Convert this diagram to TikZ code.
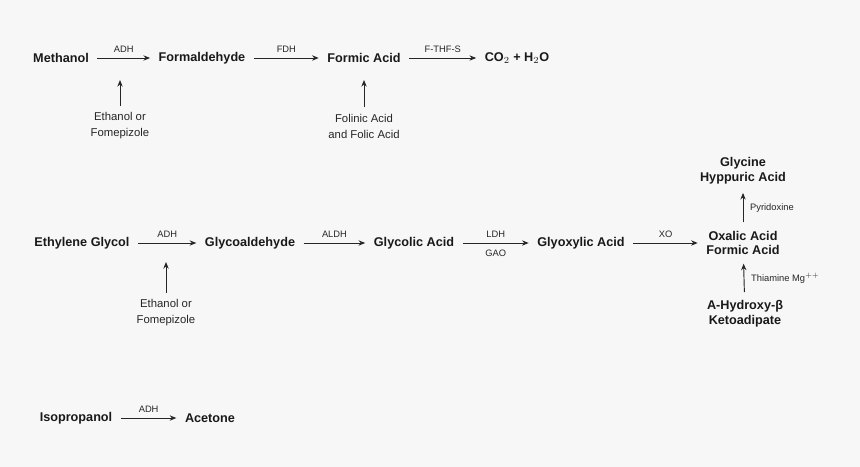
\documentclass[tikz,border=0pt]{standalone}
\usepackage{fontspec}
\setmainfont{Liberation Sans}
\usetikzlibrary{arrows.meta}
\begin{document}
\begin{tikzpicture}[x=0.75pt,y=-0.75pt,
 chem/.style={font=\bfseries\fontsize{9.5}{11}\selectfont,inner sep=0pt,outer sep=6.5pt,align=center,text=black!90},
 note/.style={font=\fontsize{8.5}{12}\selectfont,inner sep=0pt,outer sep=5pt,align=center,text=black!85},
 enz/.style={font=\fontsize{7}{8}\selectfont,inner sep=1pt,text=black!85},
 arr/.style={-{Stealth[length=5pt,width=4pt]},line width=0.7pt,black!85}]
\fill[black!3] (0,0) rectangle (860,467);
\useasboundingbox (0,0) rectangle (860,467);
% row 1
\node[chem] (meth) at (61,58) {Methanol};
\node[chem] (form) at (202,58) {Formaldehyde};
\node[chem] (fa) at (364,58) {Formic Acid};
\node[chem] (co2) at (517,58) {CO$_2$ + H$_2$O};
\draw[arr] (meth) -- node[enz,above=3pt] {ADH} (form);
\draw[arr] (form) -- node[enz,above=3pt] {FDH} (fa);
\draw[arr] (fa) -- node[enz,above=3pt] {F-THF-S} (co2);
\coordinate (c1) at (120,80);
\coordinate (c2) at (364,80);
\node[note] (eth1) at (120,126) {Ethanol or\\Fomepizole};
\node[note] (fol) at (364,126) {Folinic Acid\\and Folic Acid};
\draw[arr] (eth1) -- (c1);
\draw[arr] (fol) -- (c2);
% row 2
\node[chem] (eg) at (82,243) {Ethylene Glycol};
\node[chem] (gald) at (250,243) {Glycoaldehyde};
\node[chem] (gac) at (414,243) {Glycolic Acid};
\node[chem] (gox) at (581,243) {Glyoxylic Acid};
\node[chem] (ox) at (743,243) {Oxalic Acid\\Formic Acid};
\node[chem] (gly) at (743,171) {Glycine\\Hyppuric Acid};
\node[chem] (ahk) at (745,314) {A-Hydroxy-β\\Ketoadipate};
\draw[arr] (eg) -- node[enz,above=3pt] {ADH} (gald);
\draw[arr] (gald) -- node[enz,above=3pt] {ALDH} (gac);
\draw[arr] (gac) -- node[enz,above=3pt] {LDH} node[enz,below=4pt] {GAO} (gox);
\draw[arr] (gox) -- node[enz,above=3pt] {XO} (ox);
\draw[arr] (ox) -- node[enz,right=4pt] {Pyridoxine} (gly);
\draw[arr] (ahk) -- node[enz,right=4pt] {Thiamine Mg$^{++}$} (ox);
\coordinate (c3) at (166,262);
\node[note] (eth2) at (166,313) {Ethanol or\\Fomepizole};
\draw[arr] (eth2) -- (c3);
% row 3
\node[chem] (iso) at (76,418) {Isopropanol};
\node[chem] (ace) at (210,418) {Acetone};
\draw[arr] (iso) -- node[enz,above=3pt] {ADH} (ace);
\end{tikzpicture}
\end{document}
